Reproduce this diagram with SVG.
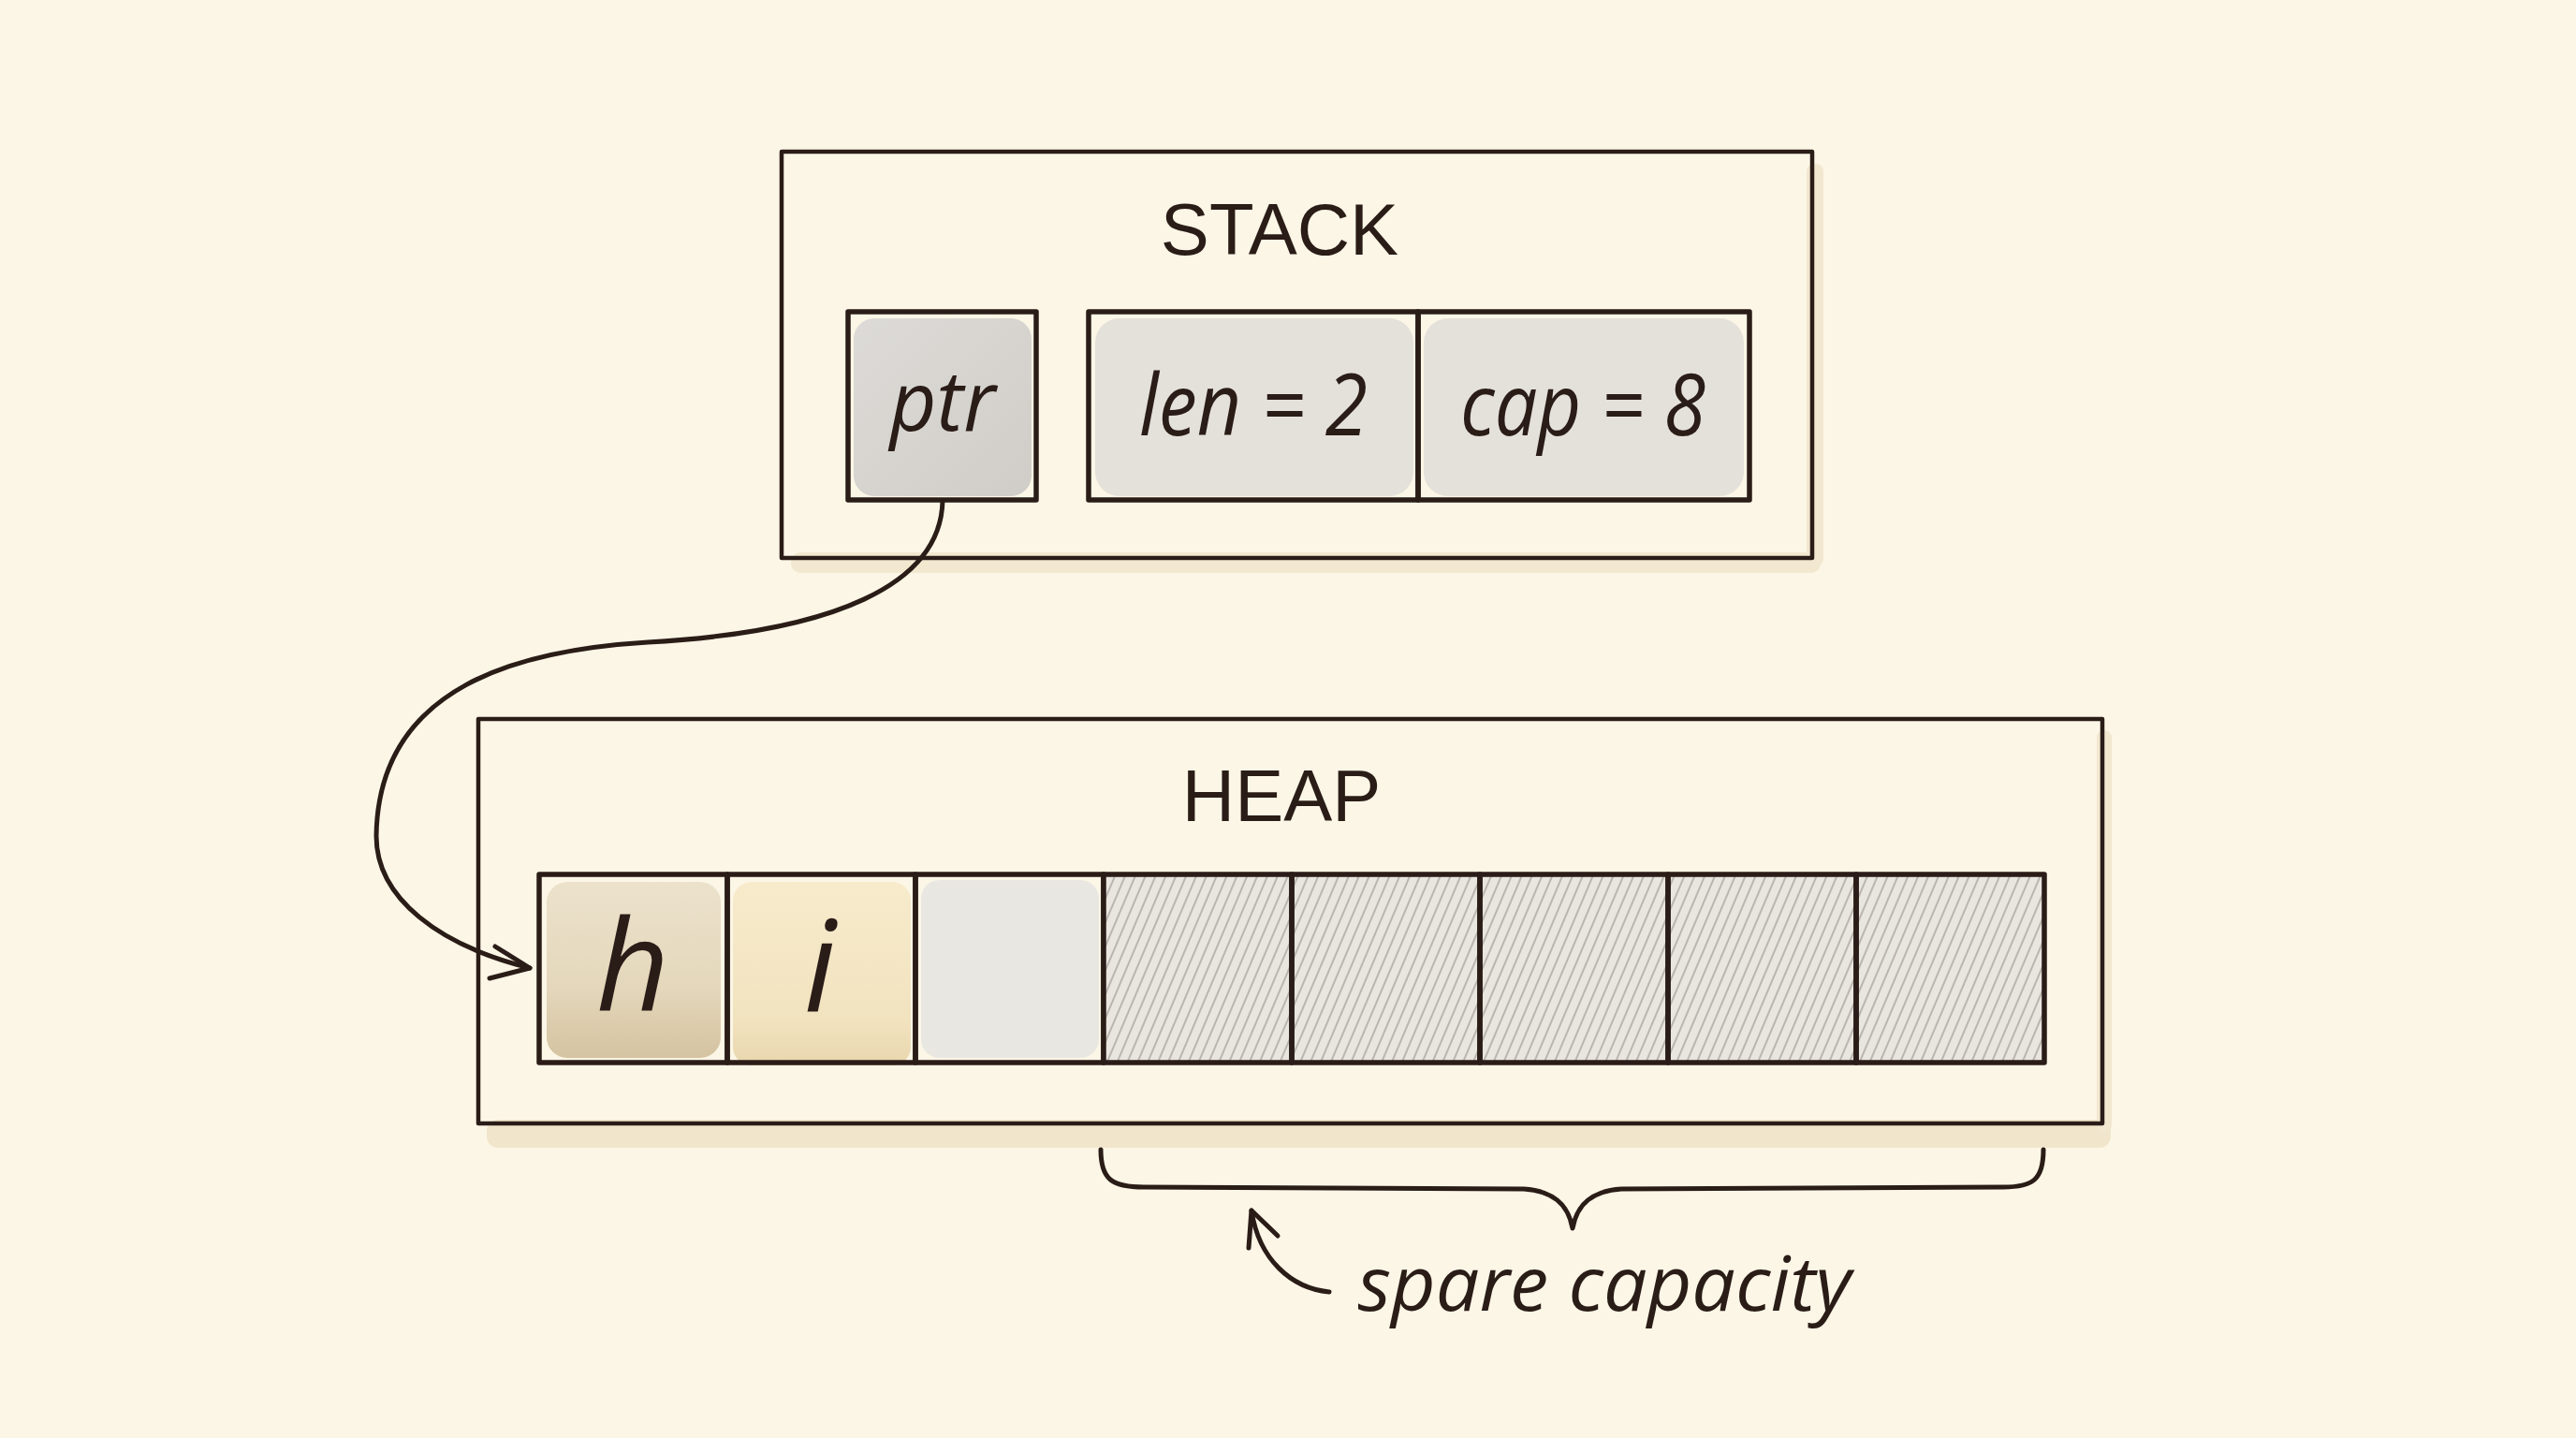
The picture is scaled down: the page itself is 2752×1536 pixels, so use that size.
<svg xmlns="http://www.w3.org/2000/svg" width="2752" height="1536" viewBox="0 0 2752 1536">
<defs>
<style>
.box{fill:none;stroke:#2a1c17;stroke-width:4.5;stroke-linejoin:round}
.cell{fill:none;stroke:#2a1c17;stroke-width:5.5;stroke-linejoin:round}
.line{fill:none;stroke:#2a1c17;stroke-width:5;stroke-linecap:round;stroke-linejoin:round}
.title{font-family:"Liberation Sans",Arial,sans-serif;font-size:78px;fill:#2a1c17;text-anchor:middle}
.hand{font-family:"Open Sans","Noto Sans",sans-serif;font-style:italic;fill:#2a1c17;text-anchor:middle}
</style>
<pattern id="hatch" patternUnits="userSpaceOnUse" width="10" height="40" patternTransform="rotate(23)">
<line x1="2" y1="0" x2="2" y2="40" stroke="#8c857d" stroke-width="1"/>
</pattern>
<linearGradient id="gh" x1="0" y1="0" x2="0" y2="1">
<stop offset="0" stop-color="#ece2cc"/>
<stop offset="0.6" stop-color="#e4d7bb"/>
<stop offset="1" stop-color="#d5c3a1"/>
</linearGradient>
<linearGradient id="gi" x1="0" y1="0" x2="0" y2="1">
<stop offset="0" stop-color="#f7ebcc"/>
<stop offset="0.75" stop-color="#f2e3bf"/>
<stop offset="1" stop-color="#e8d6ad"/>
</linearGradient>
<linearGradient id="gp" x1="0" y1="0" x2="1" y2="1">
<stop offset="0" stop-color="#dddbd7"/>
<stop offset="1" stop-color="#d0cdc8"/>
</linearGradient>
</defs>
<rect width="2752" height="1536" fill="#fcf6e6"/>

<!-- soft shadows -->
<rect x="845" y="590" width="1100" height="22" rx="10" fill="#f2e8d0"/>
<rect x="1930" y="175" width="18" height="430" rx="8" fill="#f2e8d0"/>
<rect x="520" y="1196" width="1735" height="30" rx="12" fill="#f1e6cc"/>
<rect x="2240" y="780" width="16" height="430" rx="8" fill="#f2e8d0"/>

<g id="stack">
<rect class="box" x="835" y="162" width="1101" height="434"/>
<text class="title" x="1367" y="272">STACK</text>
</g>

<g id="ptr">
<rect x="912" y="340" width="190" height="190" rx="22" fill="url(#gp)"/>
<rect class="cell" x="906" y="333" width="201" height="201"/>
<text class="hand" x="1007" y="460" font-size="90" textLength="113" lengthAdjust="spacingAndGlyphs">ptr</text>
</g>

<g id="len">
<rect x="1170" y="340" width="340" height="190" rx="26" fill="#e4e1da"/>
<rect class="cell" x="1163" y="333" width="352" height="201"/>
<text class="hand" x="1339" y="465" font-size="92" textLength="244" lengthAdjust="spacingAndGlyphs">len = 2</text>
</g>

<g id="cap">
<rect x="1521" y="340" width="342" height="190" rx="26" fill="#e4e1da"/>
<rect class="cell" x="1515" y="333" width="354" height="201"/>
<text class="hand" x="1691" y="465" font-size="92" textLength="262" lengthAdjust="spacingAndGlyphs">cap = 8</text>
</g>

<g id="heap">
<rect class="box" x="511" y="768" width="1735" height="432"/>
<text class="title" x="1369" y="877">HEAP</text>
</g>

<g id="cell-h">
<rect x="584" y="942" width="186" height="188" rx="22" fill="url(#gh)"/>
<rect class="cell" x="576" y="934" width="201" height="201"/>
<text class="hand" x="676" y="1080" font-size="136">h</text>
</g>
<g id="cell-i">
<rect x="783" y="942" width="190" height="196" rx="20" fill="url(#gi)"/>
<rect class="cell" x="777" y="934" width="201" height="201"/>
<text class="hand" x="876" y="1080" font-size="136">i</text>
</g>
<g id="cell-empty">
<rect x="984" y="940" width="190" height="190" rx="20" fill="#e9e7e2"/>
<rect class="cell" x="978" y="934" width="201" height="201"/>
</g>
<g id="spare-cells">
<rect x="1179" y="934" width="1005" height="201" fill="#e9e6df"/>
<rect x="1179" y="934" width="1005" height="201" fill="url(#hatch)"/>
<rect class="cell" x="1179" y="934" width="201" height="201"/>
<rect class="cell" x="1380" y="934" width="201" height="201"/>
<rect class="cell" x="1581" y="934" width="201" height="201"/>
<rect class="cell" x="1782" y="934" width="201" height="201"/>
<rect class="cell" x="1983" y="934" width="201" height="201"/>
</g>

<g id="connectors">
<path class="line" d="M1007,535 C1005,625 890,675 692,686 C560,694 404,730 402,893 C402,960 470,1010 566,1034"/>
<path class="line" d="M529,1011 L566,1034 L523,1045"/>
<path class="line" d="M1176,1228 C1176,1260 1188,1268 1222,1268 L1628,1270 C1658,1272 1675,1285 1680,1312 C1685,1285 1702,1272 1732,1270 L2140,1268 C2172,1268 2183,1260 2183,1228"/>
<path class="line" d="M1420,1380 C1380,1376 1345,1346 1337,1293"/>
<path class="line" d="M1334,1333 L1337,1293 L1365,1320"/>
</g>

<g id="label-spare">
<text class="hand" x="1714" y="1400" font-size="80" textLength="527" lengthAdjust="spacingAndGlyphs">spare capacity</text>
</g>
</svg>
